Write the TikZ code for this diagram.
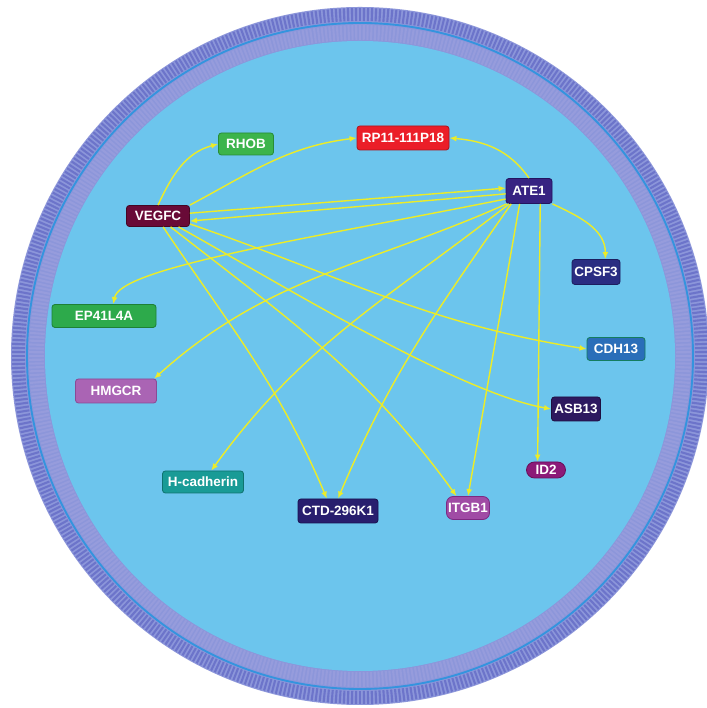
\documentclass[tikz,border=0pt]{standalone}
\usepackage{fontspec}
\setsansfont{Liberation Sans}
\usepackage{tikz}
\usetikzlibrary{arrows.meta}

\definecolor{cellblue}{RGB}{108,197,237}
\definecolor{membrane}{RGB}{140,150,218}
\definecolor{outerlipid}{RGB}{108,116,202}
\definecolor{innerlipid}{RGB}{150,156,220}
\definecolor{midline}{RGB}{52,148,222}
\definecolor{linkyellow}{RGB}{236,236,40}

\begin{document}
\begin{tikzpicture}[x=0.3mm, y=0.3mm,
		gene/.style={draw, rounded corners=2.5pt, line width=0.7pt, text=white, inner sep=0pt,
			font=\sffamily\bfseries\fontsize{11.5}{12}\selectfont},
		link/.style={->, >={Latex[length=6pt, width=5pt]}, draw=linkyellow, line width=1.2pt}]
		\useasboundingbox (0,0) rectangle (706,708);
		\fill[white] (0,0) rectangle (706,708);
		% cell and membrane
		\fill[membrane] (360,352) circle (349);
		\foreach \i in {0,...,539}
			\draw[outerlipid, line width=1.8pt] (360,352) ++(\i*2/3:335) -- ++(\i*2/3:13);
		\draw[midline, line width=1.6pt] (360,352) circle (333);
		\foreach \i in {0,...,539}
			\draw[innerlipid, line width=1.8pt] (360,352) ++(\i*2/3:316) -- ++(\i*2/3:15);
		\fill[cellblue] (360,352) circle (315);

		% genes
		\node[gene, fill={rgb,255:red,60;green,180;blue,75}, draw={rgb,255:red,40;green,140;blue,55},
			minimum width=16.5mm, minimum height=6.6mm] (RHOB) at (246,564) {RHOB};
		\node[gene, fill={rgb,255:red,105;green,10;blue,55}, draw={rgb,255:red,70;green,5;blue,35},
			minimum width=18.9mm, minimum height=6.3mm] (VEGFC) at (158,492) {VEGFC};
		\node[gene, fill={rgb,255:red,235;green,30;blue,40}, draw={rgb,255:red,175;green,20;blue,30},
			minimum width=27.6mm, minimum height=7.2mm] (RP11) at (403,570) {RP11-111P18};
		\node[gene, fill={rgb,255:red,55;green,35;blue,130}, draw={rgb,255:red,35;green,20;blue,95},
			minimum width=13.8mm, minimum height=7.5mm] (ATE1) at (529,517) {ATE1};
		\node[gene, fill={rgb,255:red,42;green,45;blue,130}, draw={rgb,255:red,28;green,30;blue,95},
			minimum width=14.4mm, minimum height=7.5mm] (CPSF3) at (596,436) {CPSF3};
		\node[gene, fill={rgb,255:red,42;green,110;blue,185}, draw={rgb,255:red,20;green,125;blue,95},
			minimum width=17.4mm, minimum height=6.9mm] (CDH13) at (616,359) {CDH13};
		\node[gene, fill={rgb,255:red,45;green,25;blue,95}, draw={rgb,255:red,30;green,15;blue,65},
			minimum width=14.7mm, minimum height=7.2mm] (ASB13) at (576,299) {ASB13};
		\node[gene, fill={rgb,255:red,140;green,26;blue,120}, draw={rgb,255:red,105;green,15;blue,90},
			rounded corners=2.4mm, minimum width=11.7mm, minimum height=4.8mm] (ID2) at (546,238) {ID2};
		\node[gene, fill={rgb,255:red,160;green,75;blue,165}, draw={rgb,255:red,125;green,40;blue,130},
			rounded corners=2mm, minimum width=12.9mm, minimum height=6.9mm] (ITGB1) at (468,200) {ITGB1};
		\node[gene, fill={rgb,255:red,40;green,30;blue,110}, draw={rgb,255:red,25;green,18;blue,80},
			minimum width=24mm, minimum height=7.2mm] (CTD) at (338,197) {CTD-296K1};
		\node[gene, fill={rgb,255:red,25;green,155;blue,150}, draw={rgb,255:red,15;green,115;blue,112},
			minimum width=24.3mm, minimum height=6.6mm] (Hcad) at (203,226) {H-cadherin};
		\node[gene, fill={rgb,255:red,45;green,170;blue,75}, draw={rgb,255:red,30;green,128;blue,53},
			minimum width=31.2mm, minimum height=6.9mm] (EP41L4A) at (104,392) {EP41L4A};
		\node[gene, fill={rgb,255:red,170;green,100;blue,180}, draw={rgb,255:red,138;green,74;blue,149},
			minimum width=24.3mm, minimum height=7.2mm] (HMGCR) at (116,317) {HMGCR};

		% links out of VEGFC
		\draw[link] (VEGFC.north) to[out=65, in=195] (RHOB.west);
		\draw[link] (VEGFC.north east) to[out=28, in=187] (RP11.west);
		\draw[link] (VEGFC.5) -- (ATE1.173);
		\draw[link] (VEGFC.-65) to[out=-56, in=113] (CTD.132);
		\draw[link] (VEGFC.-41) to[out=-38, in=126] (ITGB1.134);
		\draw[link] (VEGFC.-28) to[out=-29, in=170, looseness=0.6] (ASB13.west);
		\draw[link] (VEGFC.-14) to[out=-19, in=171] (CDH13.west);

		% links out of ATE1
		\draw[link] (ATE1.187) -- (VEGFC.-9);
		\draw[link] (ATE1.north) to[out=125, in=-5] (RP11.east);
		\draw[link] (ATE1.south east) to[out=-25, in=90] (CPSF3.54);
		\draw[link] (ATE1.-49) -- (ID2.135);
		\draw[link] (ATE1.-126) -- (ITGB1.north);
		\draw[link] (ATE1.-144) to[out=235, in=67] (CTD.north);
		\draw[link] (ATE1.-147) to[out=218, in=54] (Hcad.54);
		\draw[link] (ATE1.-150) to[out=204, in=42] (HMGCR.18);
		\draw[link] (ATE1.-161) .. controls (300,468) and (120,440) .. (EP41L4A.52);
	\end{tikzpicture}
\end{document}
